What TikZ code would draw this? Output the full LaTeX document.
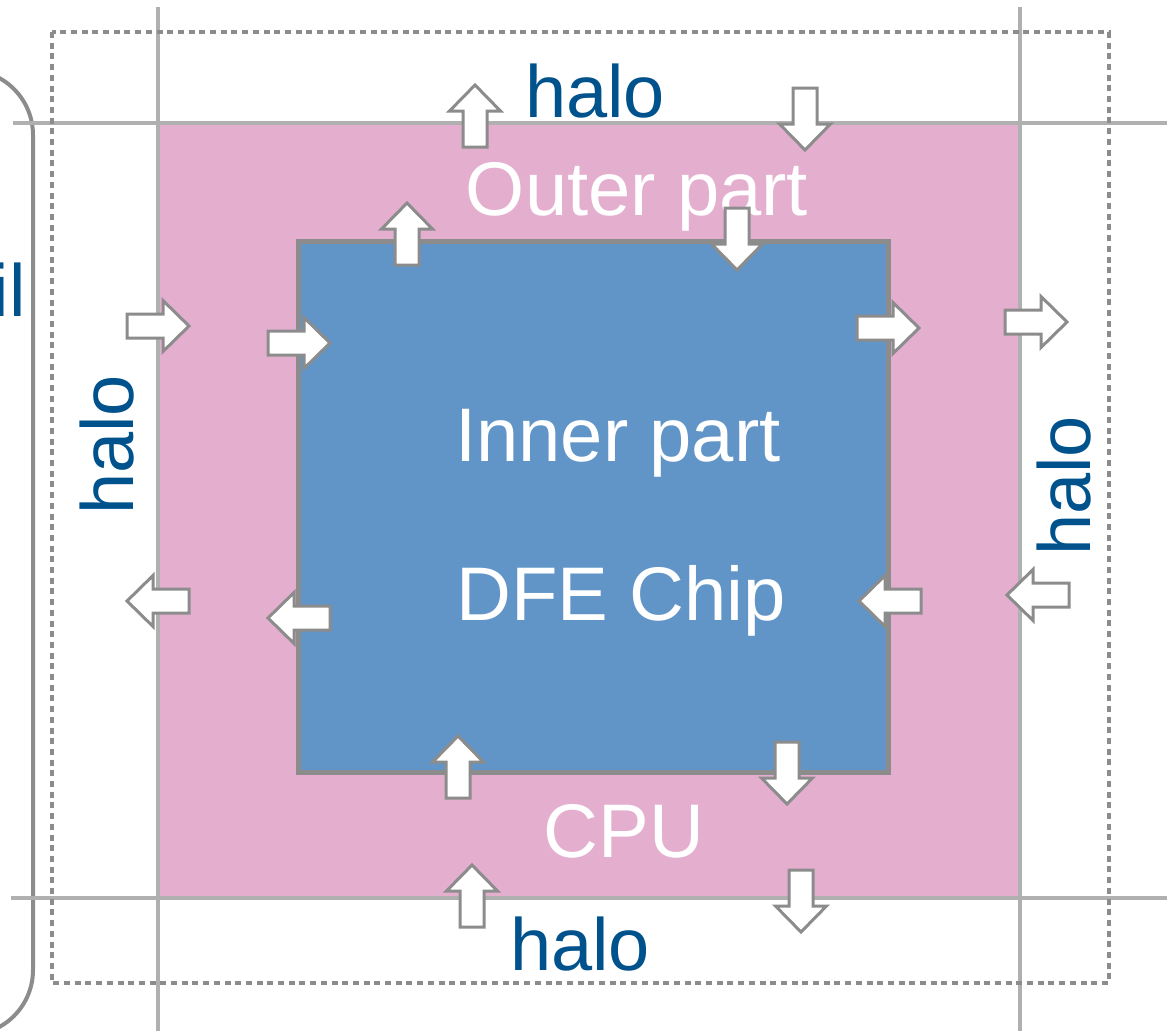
\documentclass[tikz,border=0pt]{standalone}
\usepackage{fontspec}
\setmainfont{Liberation Sans}
\usepackage{xcolor}

\definecolor{chippink}{HTML}{E4AFCF}
\definecolor{chipblue}{HTML}{6195C8}
\definecolor{edgegray}{HTML}{8C8C8C}
\definecolor{gridgray}{HTML}{B0B0B0}
\definecolor{haloblue}{HTML}{00528C}

\tikzset{
  gridline/.style={gridgray, line width=2pt},
  halolabel/.style={text=haloblue, inner sep=0pt, anchor=base, font=\fontsize{37}{44}\selectfont},
  partlabel/.style={text=white, inner sep=0pt, anchor=base, font=\fontsize{38}{45}\selectfont},
  flowarrow/.pic={
    \draw[fill=white, draw=edgegray, line width=1.5pt, line join=miter]
      (0,-12) -- (36,-12) -- (36,-25.5) -- (62,0) -- (36,25.5) -- (36,12) -- (0,12) -- cycle;
  }
}

\begin{document}
\begin{tikzpicture}[x=0.5pt, y=-0.5pt]
  \useasboundingbox (0,0) rectangle (1167,1030);
  \clip (0,0) rectangle (1167,1030);

  % --- bracket ---
  \draw[edgegray, line width=2pt, rounded corners=32.5pt] (-80,70) -- (33,70) -- (33,1035) -- (-80,1035);
  \node[halolabel, anchor=base east] (cut) at (26,316) {il};

  % --- outer part ---
  \fill[chippink] (158,123) rectangle (1020,898);

  % grid lines
  \draw[gridline] (158,7) -- (158,1040);
  \draw[gridline] (1020,7) -- (1020,1040);
  \draw[gridline] (13,123) -- (1170,123);
  \draw[gridline] (11,898) -- (1170,898);

  % halo boundary
  \draw[edgegray, line width=1.9pt, dash pattern=on 3pt off 2.35pt] (52,32) rectangle (1109,983);

  % --- inner part ---
  \draw[fill=chipblue, draw=edgegray, line width=2.5pt] (298,241) rectangle (888,772);

  % texts
  \node[partlabel] (outer) at (637,215) {Outer part};
  \node[partlabel] (inner) at (618,461) {Inner part};
  \node[partlabel] (chip) at (621,620) {DFE Chip};
  \node[partlabel] (cpu) at (624,857) {CPU};
  \node[halolabel] (halotop) at (595,117) {halo};
  \node[halolabel] (halobot) at (580,970) {halo};
  \node[halolabel, rotate=90] (haloleft) at (133,445) {halo};
  \node[halolabel, rotate=90] (haloright) at (1090,486) {halo};

  % --- arrows: tail x / tail y / direction ---
  \foreach \x/\y/\a in {475/147/90, 407/265/90, 458/798/90, 472/927/90,
                        805/88/-90, 737/208/-90, 787/742/-90, 801/870/-90,
                        127/326/0, 268/343/0, 857/328/0, 1005/322/0,
                        921/601/180, 1069/595/180, 189/601/180, 330/618/180} {
    \pic[rotate=\a] at (\x,\y) {flowarrow};
  }
\end{tikzpicture}
\end{document}
